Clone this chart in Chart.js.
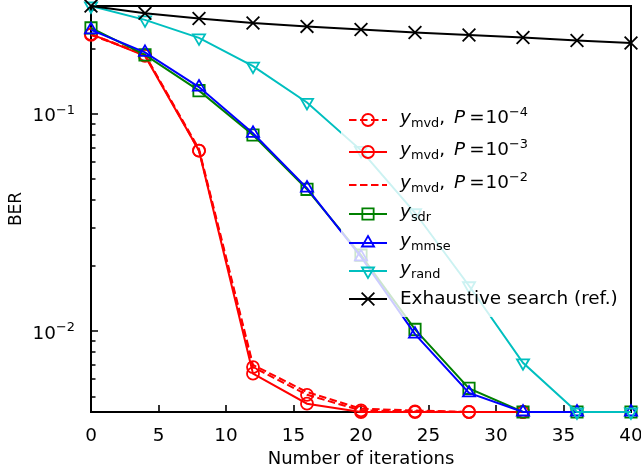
<!DOCTYPE html>
<html><head><meta charset="utf-8">
<script src="https://cdn.jsdelivr.net/npm/chart.js@4/dist/chart.umd.min.js"></script>
<style>html,body{margin:0;padding:0;background:#fff}canvas{display:block}</style>
</head><body>
<canvas id="c" width="641" height="472"></canvas>
<script>
// ---- data ----
const iterations = [0, 4, 8, 12, 16, 20, 24, 28, 32, 36, 40];
const berMvdP4 = [0.231, 0.187, 0.0678, 0.00684, 0.00510, 0.00432, 0.00428, 0.00425, 0.00425, null, null];
const berMvdP3 = [0.233, 0.185, 0.0678, 0.00638, 0.00464, 0.00425, 0.00425, 0.00425, 0.00425, null, null];
const berMvdP2 = [0.233, 0.187, 0.0690, 0.00700, 0.00525, 0.00440, 0.00432, 0.00425, 0.00425, null, null];
const berSdr = [0.249, 0.187, 0.128, 0.0800, 0.0450, 0.0224, 0.0102, 0.00546, 0.00425, 0.00425, 0.00425];
const berMmse = [0.244, 0.192, 0.133, 0.0815, 0.0456, 0.0220, 0.0097, 0.00520, 0.00425, 0.00425, 0.00425];
const berRand = [0.314, 0.271, 0.224, 0.166, 0.113, 0.068, 0.0351, 0.0162, 0.00716, 0.00425, 0.00425];
const berExhaustive = [0.314, 0.291, 0.275, 0.262, 0.253, 0.245, 0.237, 0.231, 0.225, 0.218, 0.212];

const xTickValues = [0, 5, 10, 15, 20, 25, 30, 35, 40];
const yTickValues = [0.01, 0.1];
const yTickExponents = ['\u22122', '\u22121'];
const yMinorTickValues = [0.005, 0.006, 0.007, 0.008, 0.009, 0.02, 0.03, 0.04, 0.05, 0.06, 0.07, 0.08, 0.09, 0.2, 0.3];
const yMin = 0.00425, yMax = 0.314;

// legend labels as rich-text segments: i=italic, n=normal, sub, sup, gap(px)
const legendLabels = [
  [['i','y'],['sub','mvd'],['n',','],['gap',9],['i','P'],['gap',4],['n','='],['gap',1],['n','10'],['sup','\u22124']],
  [['i','y'],['sub','mvd'],['n',','],['gap',9],['i','P'],['gap',4],['n','='],['gap',1],['n','10'],['sup','\u22123']],
  [['i','y'],['sub','mvd'],['n',','],['gap',9],['i','P'],['gap',4],['n','='],['gap',1],['n','10'],['sup','\u22122']],
  [['i','y'],['sub','sdr']],
  [['i','y'],['sub','mmse']],
  [['i','y'],['sub','rand']],
  [['n','Exhaustive search (ref.)']]
];

const FONT = '"DejaVu Sans", sans-serif';
const FS = 18.4;
const RED = '#ff0000', GREEN = '#008000', BLUE = '#0000ff', CYAN = '#00bfbf', BLACK = '#000000';

function pts(arr) { return iterations.map((x, i) => ({ x: x, y: arr[i] })); }

const seriesDefs = [
  { data: berMvdP4, color: RED, style: 'circle', r: 6, dash: [7.5, 3.5] },
  { data: berMvdP3, color: RED, style: 'circle', r: 6, dash: [] },
  { data: berMvdP2, color: RED, style: false, r: 0, dash: [7.5, 3.5] },
  { data: berSdr, color: GREEN, style: 'rect', r: 8, dash: [] },
  { data: berMmse, color: BLUE, style: 'triangle', r: 7, dash: [] },
  { data: berRand, color: CYAN, style: 'triangle', r: 7, rot: 180, dash: [] },
  { data: berExhaustive, color: BLACK, style: 'crossRot', r: 9, dash: [] }
];

const datasets = seriesDefs.map((s, i) => ({
  label: 'series' + i,
  data: pts(s.data),
  borderColor: s.color,
  backgroundColor: 'rgba(0,0,0,0)',
  borderWidth: 2,
  borderDash: s.dash,
  pointStyle: s.style === false ? 'circle' : s.style,
  pointRadius: s.r,
  pointRotation: s.rot || 0,
  pointBorderWidth: 1.8,
  pointBorderColor: s.color,
  pointBackgroundColor: 'rgba(0,0,0,0)',
  pointHoverRadius: s.r,
  tension: 0,
  clip: false,
  spanGaps: false,
  order: seriesDefs.length - i
}));

function setFont(ctx, kind) {
  if (kind === 'i') ctx.font = 'italic ' + FS + 'px ' + FONT;
  else if (kind === 'sub' || kind === 'sup') ctx.font = (FS * 0.7) + 'px ' + FONT;
  else ctx.font = FS + 'px ' + FONT;
}
function drawRich(ctx, segs, x, base) {
  segs.forEach(([kind, t]) => {
    if (kind === 'gap') { x += t; return; }
    setFont(ctx, kind);
    const dy = kind === 'sub' ? 4 : kind === 'sup' ? -7.5 : 0;
    ctx.fillText(t, x, base + dy);
    x += ctx.measureText(t).width;
  });
}
function richWidth(ctx, segs) {
  let w = 0;
  segs.forEach(([kind, t]) => {
    if (kind === 'gap') { w += t; return; }
    setFont(ctx, kind);
    w += ctx.measureText(t).width;
  });
  return w;
}

const framePlugin = {
  id: 'frame',
  beforeDatasetsDraw(chart) {
    const { ctx, chartArea: a, scales: { x, y } } = chart;
    ctx.save();
    ctx.strokeStyle = '#000';
    ctx.lineWidth = 2;
    ctx.strokeRect(a.left, a.top, a.right - a.left, a.bottom - a.top);
    ctx.lineWidth = 1.6;
    ctx.beginPath();
    xTickValues.forEach(v => { const p = Math.round(x.getPixelForValue(v)); ctx.moveTo(p, a.bottom); ctx.lineTo(p, a.bottom - 7); });
    yTickValues.forEach(v => { const p = Math.round(y.getPixelForValue(v)); ctx.moveTo(a.left, p); ctx.lineTo(a.left + 7, p); });
    yMinorTickValues.forEach(v => { const p = Math.round(y.getPixelForValue(v)); ctx.moveTo(a.left, p); ctx.lineTo(a.left + 4.5, p); });
    ctx.stroke();
    // y tick labels: 10 with superscript exponent
    ctx.fillStyle = '#000';
    ctx.textAlign = 'left';
    ctx.textBaseline = 'alphabetic';
    yTickValues.forEach((v, k) => {
      const p = y.getPixelForValue(v);
      const segs = [['n', '10'], ['sup', yTickExponents[k]]];
      const w = richWidth(ctx, segs);
      drawRich(ctx, segs, a.left - 16 - w, p + 7.5);
    });
    ctx.restore();
  }
};

const legendPlugin = {
  id: 'richLegend',
  afterDraw(chart) {
    const { ctx, chartArea: a } = chart;
    const boxL = a.left + 250, boxR = a.right - 4, boxT = a.top + 94, boxB = a.top + 311;
    const rowY = [120, 152, 185, 214, 243, 271, 299].map(v => v - 6 + a.top);
    const baseOff = [3, 3, 3, 2.5, 2.5, 2.5, 5.3];
    ctx.save();
    ctx.fillStyle = 'rgba(255,255,255,0.8)';
    ctx.fillRect(boxL, boxT, boxR - boxL, boxB - boxT);
    const hx0 = boxL + 8, hx1 = boxL + 46, hxm = (hx0 + hx1) / 2, tx = boxL + 59;
    chart.data.datasets.forEach((ds, i) => {
      const yy = rowY[i];
      const s = seriesDefs[i];
      ctx.strokeStyle = ds.borderColor;
      ctx.lineWidth = ds.borderWidth;
      ctx.setLineDash(ds.borderDash || []);
      ctx.beginPath(); ctx.moveTo(hx0, yy); ctx.lineTo(hx1, yy); ctx.stroke();
      ctx.setLineDash([]);
      if (s.style !== false) {
        ctx.fillStyle = 'rgba(0,0,0,0)';
        ctx.lineWidth = ds.pointBorderWidth;
        Chart.helpers.drawPoint(ctx, { pointStyle: s.style, radius: s.r, rotation: s.rot || 0, borderWidth: ds.pointBorderWidth }, hxm, yy);
      }
      ctx.fillStyle = '#000';
      ctx.textBaseline = 'alphabetic';
      ctx.textAlign = 'left';
      drawRich(ctx, legendLabels[i], tx, yy + baseOff[i]);
    });
    ctx.restore();
  }
};

function zeroPad(sc) { sc.paddingLeft = 0; sc.paddingRight = 0; sc.paddingTop = 0; sc.paddingBottom = 0; }

new Chart(document.getElementById('c'), {
  type: 'line',
  data: { datasets: datasets },
  options: {
    responsive: false,
    animation: false,
    events: [],
    layout: { autoPadding: false, padding: { left: 0, right: 10, top: 6, bottom: 0 } },
    plugins: { legend: { display: false }, tooltip: { enabled: false } },
    scales: {
      x: {
        type: 'linear', min: 0, max: 40,
        afterBuildTicks: sc => { sc.ticks = xTickValues.map(v => ({ value: v })); },
        afterFit: sc => { sc.height = 60; zeroPad(sc); },
        grid: { display: false }, border: { display: false },
        ticks: { color: '#000', font: { family: FONT, size: FS }, padding: 5, maxRotation: 0 },
        title: { display: true, text: 'Number of iterations', color: '#000', font: { family: FONT, size: 18 }, padding: { top: 0, bottom: 2 } }
      },
      y: {
        type: 'logarithmic', min: yMin, max: yMax,
        afterBuildTicks: sc => { sc.ticks = yTickValues.map(v => ({ value: v, major: true })); },
        afterFit: sc => { sc.width = 91; zeroPad(sc); },
        grid: { display: false }, border: { display: false },
        ticks: { display: false },
        title: { display: true, text: 'BER', color: '#000', font: { family: FONT, size: 17 }, padding: { top: 6, bottom: 0 } }
      }
    }
  },
  plugins: [framePlugin, legendPlugin]
});
</script>
</body></html>
